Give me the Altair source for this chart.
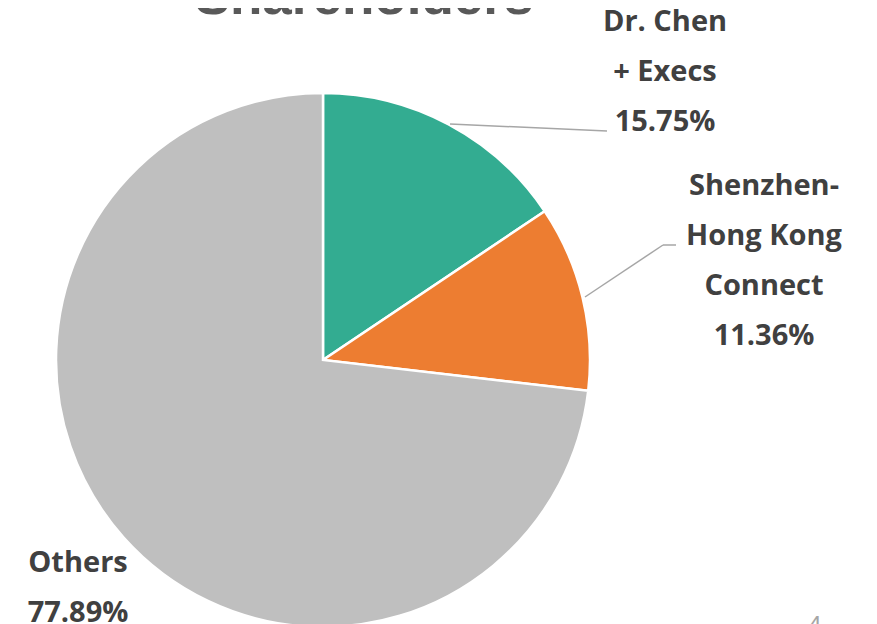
import altair as alt
import pandas as pd

categories = ["Dr. Chen + Execs", "Shenzhen-Hong Kong Connect", "Others"]
label_lines = ["Dr. Chen\n+ Execs", "Shenzhen-\nHong Kong\nConnect", "Others"]
# slice sizes as drawn in the picture (the "Others" slice is visibly smaller than its label says)
slice_values = [15.75, 11.36, 73.89]
# percentages as printed on the labels
pct_labels = ["15.75%", "11.36%", "77.89%"]
colors = ["#33AC91", "#ED7D31", "#BFBFBF"]
title_text = "Shareholders"
page_number = "4"

df = pd.DataFrame({
    "category": categories,
    "value": slice_values,
    "order": list(range(len(categories))),
    "label": [f"{l}\n{p}" for l, p in zip(label_lines, pct_labels)],
})

W, H = 861, 620
CX, CY, R = 315, 352, 267
FONT = "Open Sans"
TXT = "#404040"

pie = alt.Chart(df).mark_arc(radius=R, stroke="white", strokeWidth=2.5).encode(
    theta=alt.Theta("value:Q", stack=True, scale=alt.Scale(nice=False, zero=True)),
    color=alt.Color("category:N", scale=alt.Scale(domain=categories, range=colors), legend=None),
    order=alt.Order("order:Q"),
    x=alt.value(CX),
    y=alt.value(CY),
)

def label(i, x, y):
    return alt.Chart(df.iloc[[i]]).mark_text(
        font=FONT, fontSize=29, fontWeight="bold", color=TXT,
        align="center", baseline="alphabetic", lineBreak="\n", lineHeight=50,
    ).encode(text="label:N", x=alt.value(x), y=alt.value(y))

lab1 = label(0, 665 - 8, 31 - 8)
lab2 = label(1, 764 - 8, 195 - 8)
lab3 = label(2, 78 - 8, 572 - 8)

line_df = pd.DataFrame({"k": [0]})
rule1 = alt.Chart(line_df).mark_rule(color="#A6A6A6", strokeWidth=1.5).encode(
    x=alt.value(442), y=alt.value(116), x2=alt.value(599), y2=alt.value(123))
rule2 = alt.Chart(line_df).mark_rule(color="#A6A6A6", strokeWidth=1.5).encode(
    x=alt.value(577), y=alt.value(289), x2=alt.value(655), y2=alt.value(237))
rule3 = alt.Chart(line_df).mark_rule(color="#A6A6A6", strokeWidth=1.5).encode(
    x=alt.value(655), y=alt.value(237), x2=alt.value(668), y2=alt.value(237))

title_df = pd.DataFrame({"t": [title_text]})
title = alt.Chart(title_df).mark_text(
    font="Liberation Sans", fontSize=53, fontWeight="bold", color="#595959",
    align="center", baseline="alphabetic",
).encode(text="t:N", x=alt.value(364 - 8), y=alt.value(14 - 8))

pn_df = pd.DataFrame({"t": [page_number]})
pnum = alt.Chart(pn_df).mark_text(
    font="Liberation Sans", fontSize=24, color="#A6A6A6",
    align="center", baseline="alphabetic",
).encode(text="t:N", x=alt.value(815 - 8), y=alt.value(633 - 8))

chart = alt.layer(pie, rule1, rule2, rule3, lab1, lab2, lab3, title, pnum).properties(
    width=W, height=H, padding=0, autosize=alt.AutoSizeParams(type="none"),
).configure_view(stroke=None)

chart.save("out.html", embed_options={"renderer": "svg", "actions": False})
